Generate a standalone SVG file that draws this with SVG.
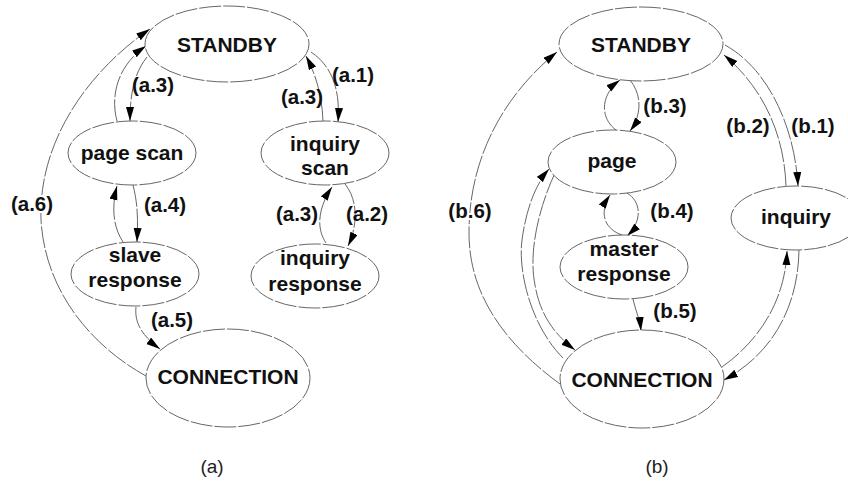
<svg xmlns="http://www.w3.org/2000/svg" width="848" height="482" viewBox="0 0 848 482">
<style>
.n ellipse{fill:#fff;stroke:#555;stroke-width:0.9;stroke-dasharray:22 2}
.n text{font-family:"Liberation Sans",Arial,sans-serif;font-weight:bold;font-size:21px;text-anchor:middle;fill:#111}
.e path{fill:none;stroke:#555;stroke-width:0.9;stroke-dasharray:22 2}
.lb{font-family:"Liberation Sans",Arial,sans-serif;font-weight:bold;font-size:20.5px;text-anchor:middle;fill:#111}
.halo{stroke:#fff;stroke-width:4;paint-order:stroke}
.cap{font-family:"Liberation Sans",Arial,sans-serif;font-size:19px;text-anchor:middle;fill:#222}
</style>
<defs>
<marker id="ah" markerUnits="userSpaceOnUse" markerWidth="15" markerHeight="9" refX="14" refY="4" orient="auto">
<path d="M0,0 L14,4 L0,8 z" fill="#000"/>
</marker>
</defs>
<rect width="848" height="482" fill="#fff"/>
<g class="e" marker-end="url(#ah)">
<path d="M146,376 C 90,345 45,290 41,220 C 38,140 90,70 150,29"/>
<path d="M117,121 C 110,95 118,65 146,46"/>
<path d="M147,57 C 135,72 130,92 130,121"/>
<path d="M311,52 C 335,68 340,95 338,122"/>
<path d="M323,121 C 322,95 316,75 306,56"/>
<path d="M133,185 C 138,205 138,220 137,242"/>
<path d="M123,242 C 112,225 112,205 117,186"/>
<path d="M345,184 C 358,200 358,225 348,246"/>
<path d="M326,243 C 316,228 318,208 332,187"/>
<path d="M136,307 C 134,325 145,338 160,349"/>
<path d="M616,130 C 600,118 600,95 620,80"/>
<path d="M630,80 C 642,95 642,115 630,131"/>
<path d="M622,235 C 602,228 600,210 610,195"/>
<path d="M627,193 C 642,202 642,222 627,236"/>
<path d="M725,45 C 770,70 795,130 798,186"/>
<path d="M786,186 C 784,130 760,85 724,55"/>
<path d="M560,384 C 500,340 468,290 469,230 C 470,150 510,90 557,52"/>
<path d="M563,358 C 530,325 518,270 522,240 C 526,210 535,185 549,169"/>
<path d="M555,173 C 540,205 528,250 535,285 C 540,315 555,335 575,350"/>
<path d="M633,299 C 636,312 640,320 641,331"/>
<path d="M722,367 C 760,340 785,300 787,251"/>
<path d="M799,250 C 798,310 770,355 724,380"/>
</g>
<g id="a_standby" class="n"><ellipse cx="227" cy="44" rx="82" ry="38"/><text x="227" y="52">STANDBY</text></g>
<g id="a_pagescan" class="n"><ellipse cx="132" cy="153" rx="64" ry="32"/><text x="132" y="160">page scan</text></g>
<g id="a_inqscan" class="n"><ellipse cx="325" cy="153" rx="64" ry="32"/><text x="325" y="151">inquiry</text><text x="325" y="175">scan</text></g>
<g id="a_slaveresp" class="n"><ellipse cx="135" cy="274" rx="64" ry="32"/><text x="135" y="262">slave</text><text x="135" y="287">response</text></g>
<g id="a_inqresp" class="n"><ellipse cx="315" cy="276" rx="64" ry="32"/><text x="315" y="265">inquiry</text><text x="315" y="291">response</text></g>
<g id="a_connection" class="n"><ellipse cx="228" cy="378" rx="82" ry="49"/><text x="228" y="384">CONNECTION</text></g>
<g id="b_standby" class="n"><ellipse cx="641" cy="44" rx="82" ry="37"/><text x="641" y="52">STANDBY</text></g>
<g id="b_page" class="n"><ellipse cx="612" cy="162" rx="64" ry="32"/><text x="612" y="168">page</text></g>
<g id="b_inquiry" class="n"><ellipse cx="796" cy="218" rx="65" ry="32"/><text x="796" y="224">inquiry</text></g>
<g id="b_masterresp" class="n"><ellipse cx="624" cy="267" rx="64" ry="32"/><text x="624" y="256">master</text><text x="624" y="281">response</text></g>
<g id="b_connection" class="n"><ellipse cx="642" cy="379" rx="82" ry="49"/><text x="642" y="387">CONNECTION</text></g>
<g id="labels">
<text class="lb" x="153" y="92">(a.3)</text>
<text class="lb" x="353" y="82">(a.1)</text>
<text class="lb" x="302" y="104">(a.3)</text>
<text class="lb" x="165" y="212">(a.4)</text>
<text class="lb" x="367" y="221">(a.2)</text>
<text class="lb" x="297" y="221">(a.3)</text>
<text class="lb" x="172" y="327">(a.5)</text>
<text class="lb halo" x="32" y="211">(a.6)</text>
<text class="lb" x="665" y="113">(b.3)</text>
<text class="lb" x="672" y="218">(b.4)</text>
<text class="lb" x="748" y="133">(b.2)</text>
<text class="lb" x="813" y="133">(b.1)</text>
<text class="lb" x="675" y="318">(b.5)</text>
<text class="lb halo" x="470" y="218">(b.6)</text>
<text class="cap" x="212" y="473">(a)</text>
<text class="cap" x="657" y="473">(b)</text>
</g>
</svg>
